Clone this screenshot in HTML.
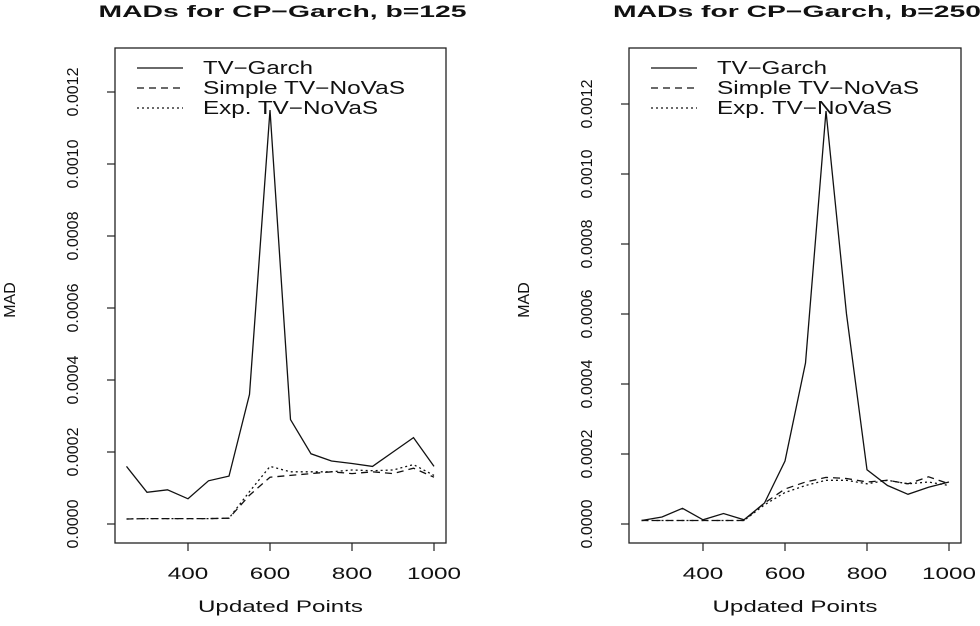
<!DOCTYPE html>
<html><head><meta charset="utf-8"><style>
body{margin:0;background:#fff}
svg text{font-family:"Liberation Sans",sans-serif;fill:#111}
</style></head><body>
<svg id="c" width="980" height="621" viewBox="0 0 980 621" xmlns="http://www.w3.org/2000/svg"></svg>
<script>
const xCats=[250,300,350,400,450,500,550,600,650,700,750,800,850,900,950,1000];
const xTicks=[400,600,800,1000];
const yTicks=["0.0000","0.0002","0.0004","0.0006","0.0008","0.0010","0.0012"];
const leftGarch=[0.00016,0.000088,0.000095,0.00007,0.00012,0.000133,0.00036,0.00115,0.00029,0.000195,0.000175,0.000168,0.00016,0.0002,0.00024,0.00016];
const leftSimple=[0.000014,0.000015,0.000015,0.000015,0.000015,0.000016,0.00008,0.00013,0.000135,0.00014,0.000145,0.00014,0.000145,0.00014,0.000155,0.00013];
const leftExp=[0.000014,0.000015,0.000015,0.000015,0.000015,0.000016,0.00009,0.00016,0.000145,0.000145,0.000145,0.00015,0.000148,0.00015,0.000165,0.000135];
const rightGarch=[0.00001,0.00002,0.000045,0.000012,0.00003,0.000012,0.00006,0.00018,0.00046,0.00118,0.0006,0.000155,0.00011,0.000085,0.000105,0.00012];
const rightSimple=[0.00001,0.00001,0.00001,0.00001,0.00001,0.00001,0.00006,0.0001,0.00012,0.000133,0.00013,0.00012,0.000125,0.000115,0.000135,0.000115];
const rightExp=[0.00001,0.00001,0.00001,0.00001,0.00001,0.00001,0.000055,0.00009,0.00011,0.000125,0.000125,0.000115,0.000125,0.000115,0.00012,0.00011];
const legendLabels=["TV\u2212Garch","Simple TV\u2212NoVaS","Exp. TV\u2212NoVaS"];
const legendWidths=[110,202,175];
const NS="http://www.w3.org/2000/svg";
const svg=document.getElementById('c');
function mk(tag,attrs,parent){const e=document.createElementNS(NS,tag);for(const k in attrs)e.setAttribute(k,attrs[k]);(parent||svg).appendChild(e);return e;}
const dashes=["","7,5","2,3"];
function panel(p){
  const g=mk('g',{});
  
  
  const sx=v=>p.x400+(v-400)*(p.x1000-p.x400)/600;
  const sy=v=>p.y0-v*(p.y0-p.y12)/0.0012;
  const box=mk('rect',{x:p.l,y:48,width:p.r-p.l,height:543-48,fill:'none',stroke:'#222','stroke-width':1.3},g);
  
  xTicks.forEach(t=>{
    mk('line',{x1:sx(t),x2:sx(t),y1:543,y2:551,stroke:'#222','stroke-width':1.2},g);
    const s=String(t);
    const tx=mk('text',{x:sx(t),y:579,'text-anchor':'middle','font-size':17,textLength:s.length*13.5,lengthAdjust:'spacingAndGlyphs'},g);tx.textContent=s;
    
  });
  yTicks.forEach(t=>{
    const y=sy(parseFloat(t));
    mk('line',{x1:p.l,x2:p.l-8,y1:y,y2:y,stroke:'#222','stroke-width':1.2},g);
    const tx=mk('text',{x:p.l-43,y:y,'text-anchor':'middle','font-size':16,transform:`rotate(-90 ${p.l-43} ${y})`,dy:6},g);tx.textContent=t;
    
  });
  const ti=mk('text',{x:(p.l+p.r)/2+2,y:17,'text-anchor':'middle','font-size':17,'font-weight':'bold',textLength:368,lengthAdjust:'spacingAndGlyphs'},g);ti.textContent=p.title;
  
  const xl=mk('text',{x:(p.l+p.r)/2,y:612,'text-anchor':'middle','font-size':17,textLength:165,lengthAdjust:'spacingAndGlyphs'},g);xl.textContent="Updated Points";
  
  const yx=p.l-100;
  const yl=mk('text',{x:yx,y:300,'text-anchor':'middle','font-size':16,transform:`rotate(-90 ${yx} 300)`},g);yl.textContent="MAD";
  
  [p.garch,p.simple,p.exp].forEach((s,i)=>{
    const pts=s.map((v,j)=>sx(xCats[j]).toFixed(1)+','+sy(v).toFixed(1)).join(' ');
    const pl=mk('polyline',{points:pts,fill:'none',stroke:'#111','stroke-width':1.3,'stroke-dasharray':dashes[i]},g);
    
    
  });
  legendLabels.forEach((lab,i)=>{
    const y=68+i*20;
    mk('line',{x1:p.l+22,x2:p.l+68,y1:y,y2:y,stroke:'#111','stroke-width':1.3,'stroke-dasharray':dashes[i]},g);
    const tx=mk('text',{x:p.l+88,y:y+6,'font-size':18,textLength:legendWidths[i],lengthAdjust:'spacingAndGlyphs'},g);tx.textContent=lab;
    
  });
}
panel({name:'left-panel',l:115,r:446,x400:188,x1000:434,y0:524,y12:92,title:"MADs for CP\u2212Garch, b=125",garch:leftGarch,simple:leftSimple,exp:leftExp});
panel({name:'right-panel',l:629,r:961,x400:703,x1000:949,y0:524,y12:104,title:"MADs for CP\u2212Garch, b=250",garch:rightGarch,simple:rightSimple,exp:rightExp});
</script>
</body></html>
